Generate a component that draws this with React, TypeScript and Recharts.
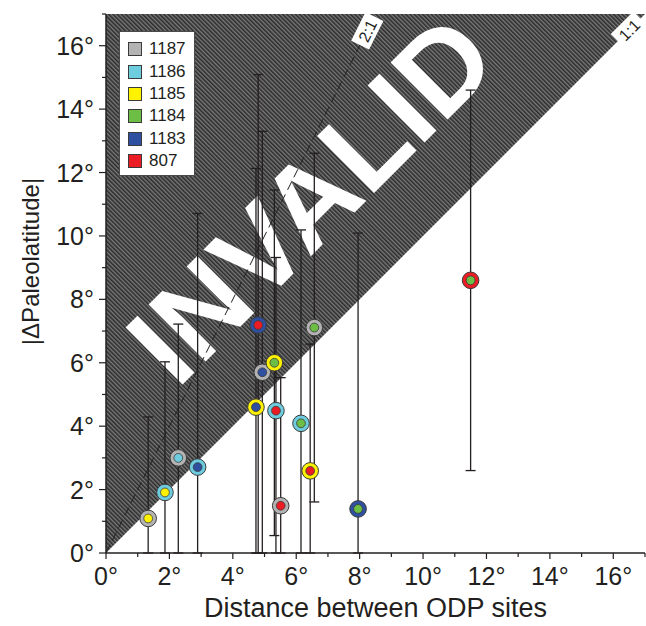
import React from "react";
import {
  ScatterChart,
  Scatter,
  XAxis,
  YAxis,
  ErrorBar,
  ReferenceArea,
  ReferenceLine,
  ReferenceDot,
  Legend,
} from "recharts";

// ODP sites shown in the legend
const sites = ["1187", "1186", "1185", "1184", "1183", "807"];
const siteColors = ["#b3b3b3", "#6dcddf", "#fff200", "#6cbf44", "#2f4fa1", "#ec1c24"];

// site pairs: outer ring = first site, inner dot = second site
const distance = [1.33, 1.86, 2.28, 2.89, 4.8, 4.93, 4.73, 5.31, 5.36, 5.51, 6.15, 6.44, 6.57, 7.95, 11.5];
const dPaleolat = [1.09, 1.91, 3.0, 2.71, 7.19, 5.7, 4.6, 6.0, 4.49, 1.49, 4.09, 2.59, 7.11, 1.39, 8.6];
const uncertainty = [3.2, 4.12, 4.22, 8.0, 7.9, 7.6, 7.53, 5.45, 4.83, 4.04, 6.1, 4.0, 5.5, 8.7, 6.0];
const outerSite = ["1187", "1186", "1187", "1186", "1183", "1187", "1185", "1185", "1186", "1187", "1186", "1185", "1187", "1183", "807"];
const innerSite = ["1185", "1185", "1186", "1183", "807", "1183", "1183", "1184", "807", "807", "1184", "807", "1184", "1184", "1184"];

const axisTicks = [0, 1, 2, 3, 4, 5, 6, 7, 8, 9, 10, 11, 12, 13, 14, 15, 16, 17];
const AXIS_MAX = 17;

const FONT = '"Liberation Sans", Arial, Helvetica, sans-serif';
const INK = "#231f20";

const colorOf = (site: string) => siteColors[sites.indexOf(site)];

const data = distance.map((x, i) => ({
  x,
  y: dPaleolat[i],
  err: uncertainty[i],
  outer: outerSite[i],
  inner: innerSite[i],
}));

// bars are cut at the x axis (the scatter point keeps the raw row in payload)
const errorRange = (d: any) => {
  const row = d.payload ?? d;
  return [Math.min(row.err, row.y), row.err];
};

const XTick = (props: any) => {
  const { x, y, payload } = props;
  const major = payload.value % 2 === 0;
  return (
    <g>
      <line x1={x} x2={x} y1={y} y2={y + (major ? 6 : 4)} stroke={INK} strokeWidth={1.2} />
      {major && (
        <text x={x} y={y + 32} textAnchor="middle" fontSize={25} fontFamily={FONT} fill={INK}>
          {payload.value}°
        </text>
      )}
    </g>
  );
};

const YTick = (props: any) => {
  const { x, y, payload } = props;
  const major = payload.value % 2 === 0;
  return (
    <g>
      <line x1={x - (major ? 7 : 4)} x2={x} y1={y} y2={y} stroke={INK} strokeWidth={1.2} />
      {major && (
        <text x={x - 12} y={y + 9} textAnchor="end" fontSize={25} fontFamily={FONT} fill={INK}>
          {payload.value}°
        </text>
      )}
    </g>
  );
};

// hatched triangle above the 1:1 line with the INVALID stamp
const InvalidZone = (props: any) => {
  const { x, y, width, height } = props;
  const px = (v: number) => x + (width * v) / AXIS_MAX;
  const py = (v: number) => y + height - (height * v) / AXIS_MAX;
  const tx = px(6.42);
  const ty = py(11.2);
  return (
    <g>
      <defs>
        <pattern id="hatch" width="3" height="3" patternUnits="userSpaceOnUse" patternTransform="rotate(-45)">
          <rect width="3" height="3" fill="#7a7a7a" />
          <rect width="1.6" height="3" fill="#2c2c2c" />
        </pattern>
      </defs>
      <polygon points={`${x},${y + height} ${x},${y} ${x + width},${y}`} fill="url(#hatch)" />
      <text
        x={tx}
        y={ty}
        dy="0.36em"
        textAnchor="middle"
        fontSize={117}
        fontWeight="bold"
        fontFamily={FONT}
        fill="#ffffff"
        transform={`rotate(-45 ${tx} ${ty})`}
      >
        INVALID
      </text>
    </g>
  );
};

const RatioTag = ({ text, angle }: { text: string; angle: number }) => (props: any) => {
  const { cx, cy } = props;
  return (
    <g transform={`rotate(${angle} ${cx} ${cy})`}>
      <rect x={cx - 16} y={cy - 10} width={32} height={20} fill="#ffffff" />
      <text x={cx} y={cy + 6} textAnchor="middle" fontSize={16} fontFamily={FONT} fill={INK}>
        {text}
      </text>
    </g>
  );
};

const PairMarker = (props: any) => {
  const { cx, cy, payload } = props;
  if (cx == null || cy == null) return null;
  return (
    <g>
      <circle cx={cx} cy={cy} r={8.3} fill={colorOf(payload.outer)} stroke="#3a3a3a" strokeWidth={1} />
      <circle cx={cx} cy={cy} r={4.4} fill={colorOf(payload.inner)} stroke="#3a3a3a" strokeWidth={0.8} />
    </g>
  );
};

const SiteLegend = () => (
  <div
    style={{
      background: "#fff",
      border: "1px solid #4a4a4a",
      boxSizing: "border-box",
      width: 76,
      padding: "6px 0 3px 8px",
      fontFamily: FONT,
    }}
  >
    {sites.map((s, i) => (
      <div key={s} style={{ height: 22.4, display: "flex", alignItems: "center" }}>
        <span
          style={{
            width: 14,
            height: 14,
            boxSizing: "border-box",
            background: siteColors[i],
            border: "1.5px solid #3a3a3a",
            marginRight: 7,
          }}
        />
        <span style={{ fontSize: 17, color: INK }}>{s}</span>
      </div>
    ))}
  </div>
);

export default function App() {
  return (
    <div style={{ position: "absolute", left: 0, top: 0, background: "#fff" }}>
      <ScatterChart width={646} height={626} margin={{ top: 14, right: 1, bottom: 0, left: 0 }}>
        <XAxis
          type="number"
          dataKey="x"
          domain={[0, AXIS_MAX]}
          ticks={axisTicks}
          interval={0}
          allowDataOverflow
          tick={<XTick />}
          tickLine={false}
          tickSize={0}
          tickMargin={0}
          axisLine={{ stroke: INK, strokeWidth: 1.5 }}
          height={73}
          label={{
            content: (p: any) => (
              <text
                x={p.viewBox.x + p.viewBox.width / 2}
                y={617}
                textAnchor="middle"
                fontSize={27}
                fontFamily={FONT}
                fill={INK}
              >
                Distance between ODP sites
              </text>
            ),
          }}
        />
        <YAxis
          type="number"
          dataKey="y"
          domain={[0, AXIS_MAX]}
          ticks={axisTicks}
          interval={0}
          allowDataOverflow
          tick={<YTick />}
          tickLine={false}
          tickSize={0}
          tickMargin={0}
          axisLine={{ stroke: INK, strokeWidth: 1.5 }}
          width={106}
          label={{
            content: (p: any) => {
              const lx = 30;
              const ly = p.viewBox.y + p.viewBox.height / 2 - 22;
              return (
                <text
                  x={lx}
                  y={ly}
                  dy="0.36em"
                  textAnchor="middle"
                  fontSize={24}
                  fontFamily={FONT}
                  fill={INK}
                  transform={`rotate(-90 ${lx} ${ly})`}
                >
                  |ΔPaleolatitude|
                </text>
              );
            },
          }}
        />
        <ReferenceArea x1={0} x2={AXIS_MAX} y1={0} y2={AXIS_MAX} shape={InvalidZone} />
        <ReferenceLine
          segment={[
            { x: 0, y: 0 },
            { x: AXIS_MAX / 2, y: AXIS_MAX },
          ]}
          stroke={INK}
          strokeWidth={1}
          strokeDasharray="9 5"
        />
        <Scatter data={data} isAnimationActive={false} shape={PairMarker}>
          <ErrorBar dataKey={errorRange} direction="y" width={5} stroke={INK} strokeWidth={1.3} isAnimationActive={false} />
        </Scatter>
        <ReferenceDot x={8.24} y={16.47} shape={RatioTag({ text: "2:1", angle: -63.4 })} />
        <ReferenceDot x={16.5} y={16.5} shape={RatioTag({ text: "1:1", angle: -45 })} />
        <Legend
          layout="vertical"
          align="center"
          verticalAlign="middle"
          content={<SiteLegend />}
          wrapperStyle={{ left: 119, top: 31, width: 76, height: "auto" }}
        />
      </ScatterChart>
    </div>
  );
}
